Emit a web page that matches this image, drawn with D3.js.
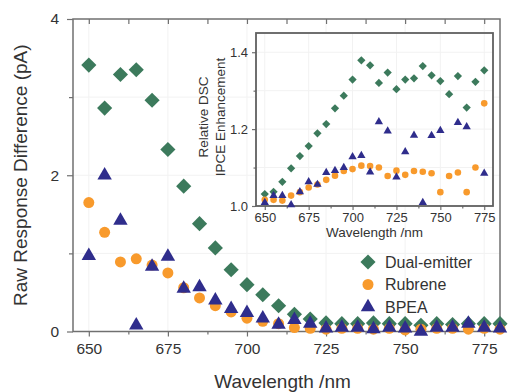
<!DOCTYPE html>
<html>
<head>
<meta charset="utf-8">
<script src="https://cdn.jsdelivr.net/npm/d3@7"></script>
<style>
  body { margin: 0; background: #fff; }
  svg text { font-family: "Liberation Sans", Arial, sans-serif; fill: #333; }
</style>
</head>
<body>
<div id="chart"></div>
<script>
// main plot data (raw response difference, pA)
const wavelengths = [650,655,660,665,670,675,680,685,690,695,700,705,710,715,720,725,730,735,740,745,750,755,760,765,770,775,780];
const dualMain = [3.41,2.86,3.29,3.35,2.96,2.33,1.86,1.38,1.07,0.79,0.60,0.47,0.33,0.22,0.16,0.11,0.10,0.10,0.11,0.10,0.10,0.08,0.10,0.09,0.10,0.10,0.10];
const rubreneMain = [1.65,1.27,0.89,0.93,0.85,0.75,0.56,0.43,0.33,0.25,0.17,0.13,0.10,0.05,0.04,0.03,0.04,0.04,0.03,0.04,0.02,0.03,0.04,0.04,0.03,0.04,0.03];
const bpeaMain = [0.97,2.00,1.42,0.08,0.83,0.96,0.55,0.57,0.40,0.29,0.24,0.17,0.09,0.15,0.10,0.04,0.05,0.05,0.03,0.05,0.04,0.00,0.05,0.05,0.10,0.05,0.04];

// inset data (relative DSC IPCE enhancement)
const wavelengthsInset = [650,655,660,665,670,675,680,685,690,695,700,705,710,715,720,725,730,735,740,745,750,755,760,765,770,775];
const dualInset = [1.031,1.037,1.063,1.098,1.130,1.156,1.189,1.213,1.254,1.287,1.329,1.379,1.366,1.320,1.347,1.304,1.329,1.332,1.364,1.340,1.325,1.291,1.338,1.256,1.323,1.353];
const rubreneInset = [1.016,1.016,1.014,1.027,1.036,1.048,1.056,1.068,1.079,1.091,1.096,1.105,1.104,1.100,1.078,1.092,1.081,1.091,1.089,1.085,1.036,1.078,1.087,1.036,1.100,1.267];
const bpeaInset = [1.009,1.027,1.027,1.003,1.037,1.063,1.056,1.087,1.092,1.100,1.128,1.131,1.088,1.219,1.195,1.075,1.141,1.184,1.009,1.183,1.196,null,1.217,1.206,null,1.085];

const seriesNames = ["Dual-emitter", "Rubrene", "BPEA"];
const xTicks = [650,675,700,725,750,775];
const xMinorTicks = [662.5,687.5,712.5,737.5,762.5];
const yTicks = [0,2,4];
const yMinorTicks = [1,3];
const yInsetTicks = [1.0,1.2,1.4];
const yInsetMinorTicks = [1.1,1.3];

const colors = {"Dual-emitter": "#3c7a5c", "Rubrene": "#f89a2c", "BPEA": "#2f2d8c"};
const symbols = {"Dual-emitter": d3.symbolSquare, "Rubrene": d3.symbolCircle, "BPEA": d3.symbolTriangle};
const rotate = {"Dual-emitter": 45, "Rubrene": 0, "BPEA": 0};

const W = 525, H = 392;
const svg = d3.select("#chart").append("svg").attr("width", W).attr("height", H);

// scales
const x = d3.scaleLinear().domain([645, 780]).range([73, 500]);
const y = d3.scaleLinear().domain([0, 4]).range([331.5, 19]);
const xi = d3.scaleLinear().domain([645, 780]).range([256, 493]);
const yi = d3.scaleLinear().domain([1.0, 1.45]).range([206, 33]);

const axisColor = "#707070";

function styleAxis(g, fontSize) {
  g.select(".domain").remove();
  g.selectAll("line").attr("stroke", axisColor).attr("stroke-width", 1.2);
  g.selectAll("text").style("font-size", fontSize + "px").attr("fill", "#333");
}

// faint grid
svg.append("g").selectAll("line").data(xTicks).join("line")
  .attr("x1", d => x(d)).attr("x2", d => x(d)).attr("y1", y(4)).attr("y2", y(0))
  .attr("stroke", "#f2f2f2");
svg.append("g").selectAll("line").data([1,2,3]).join("line")
  .attr("x1", x(645)).attr("x2", x(780)).attr("y1", d => y(d)).attr("y2", d => y(d))
  .attr("stroke", "#f2f2f2");

// main axes
svg.append("g").attr("transform", "translate(0," + y(0) + ")")
  .call(d3.axisBottom(x).tickValues(xMinorTicks).tickSize(3).tickFormat(""))
  .call(g => styleAxis(g, 15));
svg.append("g").attr("transform", "translate(0," + y(0) + ")")
  .call(d3.axisBottom(x).tickValues(xTicks).tickSize(5).tickPadding(6).tickFormat(d3.format("d")))
  .call(g => styleAxis(g, 15.5));
svg.append("g").attr("transform", "translate(0," + y(4) + ")")
  .call(d3.axisBottom(x).tickValues(xTicks.concat(xMinorTicks)).tickSize(5).tickFormat(""))
  .call(g => styleAxis(g, 15));
svg.append("g").attr("transform", "translate(" + x(645) + ",0)")
  .call(d3.axisLeft(y).tickValues(yMinorTicks).tickSize(4).tickFormat(""))
  .call(g => styleAxis(g, 15));
svg.append("g").attr("transform", "translate(" + x(645) + ",0)")
  .call(d3.axisLeft(y).tickValues(yTicks).tickSize(6).tickPadding(8).tickFormat(d3.format("d")))
  .call(g => styleAxis(g, 15.5));

// main frame
svg.append("rect")
  .attr("x", x(645)).attr("y", y(4))
  .attr("width", x(780) - x(645)).attr("height", y(0) - y(4))
  .attr("fill", "none").attr("stroke", axisColor).attr("stroke-width", 1.5);

// main titles
svg.append("text")
  .attr("x", (x(645) + x(780)) / 2 - 4).attr("y", 388)
  .attr("text-anchor", "middle").style("font-size", "19px").attr("fill", "#3a3a3a")
  .text("Wavelength /nm");
svg.append("text")
  .attr("transform", "translate(27," + ((y(0) + y(4)) / 2) + ") rotate(-90)")
  .attr("text-anchor", "middle").style("font-size", "19px").attr("fill", "#3a3a3a")
  .text("Raw Response Difference (pA)");

function drawSeries(g, xs, ys, values, name, size) {
  const pts = xs.map((w, i) => ({w: w, v: values[i]})).filter(d => d.v !== null);
  g.append("g").selectAll("path").data(pts).join("path")
    .attr("d", d3.symbol().type(symbols[name]).size(size))
    .attr("transform", d => "translate(" + xs.scale(d.w) + "," + ys(d.v) + ") rotate(" + rotate[name] + ")")
    .attr("fill", colors[name]);
}

// wrap the x scale with its domain values for convenience
function withScale(arr, scale) { const a = arr.slice(); a.scale = scale; return a; }

const mainSizes = {"Dual-emitter": 115, "Rubrene": 95, "BPEA": 90};
const mainData = {"Dual-emitter": dualMain, "Rubrene": rubreneMain, "BPEA": bpeaMain};
const mainG = svg.append("g");
seriesNames.forEach(name => {
  drawSeries(mainG, withScale(wavelengths, x), y, mainData[name], name, mainSizes[name]);
});

// legend
const legend = svg.append("g");
seriesNames.forEach((name, i) => {
  const ly = 262 + i * 22.5;
  legend.append("path")
    .attr("d", d3.symbol().type(symbols[name]).size(mainSizes[name]))
    .attr("transform", "translate(368," + ly + ") rotate(" + rotate[name] + ")")
    .attr("fill", colors[name]);
  legend.append("text")
    .attr("x", 385).attr("y", ly + 5.5)
    .style("font-size", "16px").attr("fill", "#333")
    .text(name);
});

// inset
const inset = svg.append("g");
inset.append("rect")
  .attr("x", xi(645)).attr("y", yi(1.45))
  .attr("width", xi(780) - xi(645)).attr("height", yi(1.0) - yi(1.45))
  .attr("fill", "#fff");
inset.append("g").selectAll("line").data(xTicks).join("line")
  .attr("x1", d => xi(d)).attr("x2", d => xi(d)).attr("y1", yi(1.45)).attr("y2", yi(1.0))
  .attr("stroke", "#f2f2f2");
inset.append("g").selectAll("line").data([1.1,1.2,1.3,1.4]).join("line")
  .attr("x1", xi(645)).attr("x2", xi(780)).attr("y1", d => yi(d)).attr("y2", d => yi(d))
  .attr("stroke", "#f2f2f2");

inset.append("g").attr("transform", "translate(0," + yi(1.0) + ")")
  .call(d3.axisBottom(xi).tickValues(xMinorTicks).tickSize(2.5).tickFormat(""))
  .call(g => styleAxis(g, 13));
inset.append("g").attr("transform", "translate(0," + yi(1.0) + ")")
  .call(d3.axisBottom(xi).tickValues(xTicks).tickSize(4).tickPadding(3).tickFormat(d3.format("d")))
  .call(g => styleAxis(g, 13));
inset.append("g").attr("transform", "translate(" + xi(645) + ",0)")
  .call(d3.axisLeft(yi).tickValues(yInsetMinorTicks).tickSize(2.5).tickFormat(""))
  .call(g => styleAxis(g, 13));
inset.append("g").attr("transform", "translate(" + xi(645) + ",0)")
  .call(d3.axisLeft(yi).tickValues(yInsetTicks).tickSize(4).tickPadding(4).tickFormat(d3.format(".1f")))
  .call(g => styleAxis(g, 13));

inset.append("rect")
  .attr("x", xi(645)).attr("y", yi(1.45))
  .attr("width", xi(780) - xi(645)).attr("height", yi(1.0) - yi(1.45))
  .attr("fill", "none").attr("stroke", "#606060").attr("stroke-width", 1.8);

inset.append("text")
  .attr("x", (xi(645) + xi(780)) / 2).attr("y", 237)
  .attr("text-anchor", "middle").style("font-size", "13.5px").attr("fill", "#3a3a3a")
  .text("Wavelength /nm");
inset.append("text")
  .attr("transform", "translate(208," + 117 + ") rotate(-90)")
  .attr("text-anchor", "middle").style("font-size", "13.5px").attr("fill", "#3a3a3a")
  .text("Relative DSC");
inset.append("text")
  .attr("transform", "translate(225," + 117 + ") rotate(-90)")
  .attr("text-anchor", "middle").style("font-size", "13.5px").attr("fill", "#3a3a3a")
  .text("IPCE Enhancement");

const insetSizes = {"Dual-emitter": 34, "Rubrene": 34, "BPEA": 30};
const insetData = {"Dual-emitter": dualInset, "Rubrene": rubreneInset, "BPEA": bpeaInset};
seriesNames.forEach(name => {
  drawSeries(inset, withScale(wavelengthsInset, xi), yi, insetData[name], name, insetSizes[name]);
});
</script>
</body>
</html>
